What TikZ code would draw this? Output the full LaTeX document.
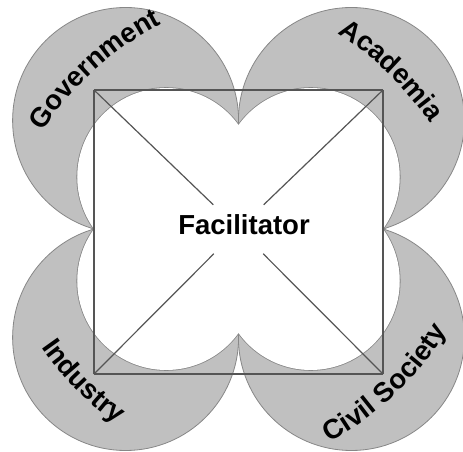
\documentclass[tikz,border=0pt]{standalone}
\usepackage{fontspec}
\setmainfont{Liberation Sans}
\usetikzlibrary{decorations.text}

\definecolor{petalgray}{RGB}{192,192,192}
\definecolor{rimgray}{RGB}{135,135,135}
\definecolor{linegray}{RGB}{85,85,85}

\newcommand{\lblfont}{\bfseries\fontsize{27.5}{33}\selectfont}

\begin{document}
\begin{tikzpicture}[x=1pt,y=1pt,
	petal/.style={fill=petalgray,draw=rimgray,line width=0.8pt},
	hole/.style={draw=rimgray,line width=1.6pt},
	frame/.style={draw=linegray,line width=1.2pt},
	arclabel/.style={decorate,decoration={text along path,text align=center,text={#1}}}]
	
	\useasboundingbox (-238.5,-223) rectangle (224.5,229);
	
	% four petals
	\foreach \sx/\sy in {-1/1,1/1,-1/-1,1/-1}
		\path[petal] (\sx*112.9,\sy*108.5) circle (113);
	\foreach \sx/\sy in {-1/1,1/1,-1/-1,1/-1}
		\path[hole] (\sx*72.25,\sy*52) circle (89);
	\foreach \sx/\sy in {-1/1,1/1,-1/-1,1/-1}
		\fill[white] (\sx*72.25,\sy*52) circle (89);
	\fill[white] (-144.5,0) -- (0,104) -- (144.5,0) -- (0,-104) -- cycle;
	
	\coordinate (ctr) at (0,0);
	\coordinate (tl) at (-144.5,139);
	\coordinate (tr) at (144.5,139);
	\coordinate (bl) at (-144.5,-145);
	\coordinate (br) at (144.5,-145);
	\node[font=\lblfont] (fac) at (5.5,4) {Facilitator};
	
	\path[frame] (tl) edge (tr);
	\path[frame] (tr) edge (br);
	\path[frame] (br) edge (bl);
	\path[frame] (bl) edge (tl);
	\path[frame] (tl) edge[shorten >=35pt] (ctr);
	\path[frame] (tr) edge[shorten >=35pt] (ctr);
	\path[frame] (bl) edge[shorten >=35pt] (ctr);
	\path[frame] (br) edge[shorten >=35pt] (ctr);
	
	% labels on flat arcs
	\path[arclabel={|\lblfont|Government}, shift={(70.9,-78.8)}] (157:320) arc (157:107:320);
	\path[arclabel={|\lblfont|Academia}, shift={(-72.3,-74.8)}] (71:320) arc (71:21:320);
	\path[arclabel={|\lblfont|Industry}, shift={(65.6,64.5)}] (200:320) arc (200:249:320);
	\path[arclabel={|\lblfont|Civil Society}, shift={(-63.3,66.7)}] (286:320) arc (286:341:320);
	
\end{tikzpicture}
\end{document}
